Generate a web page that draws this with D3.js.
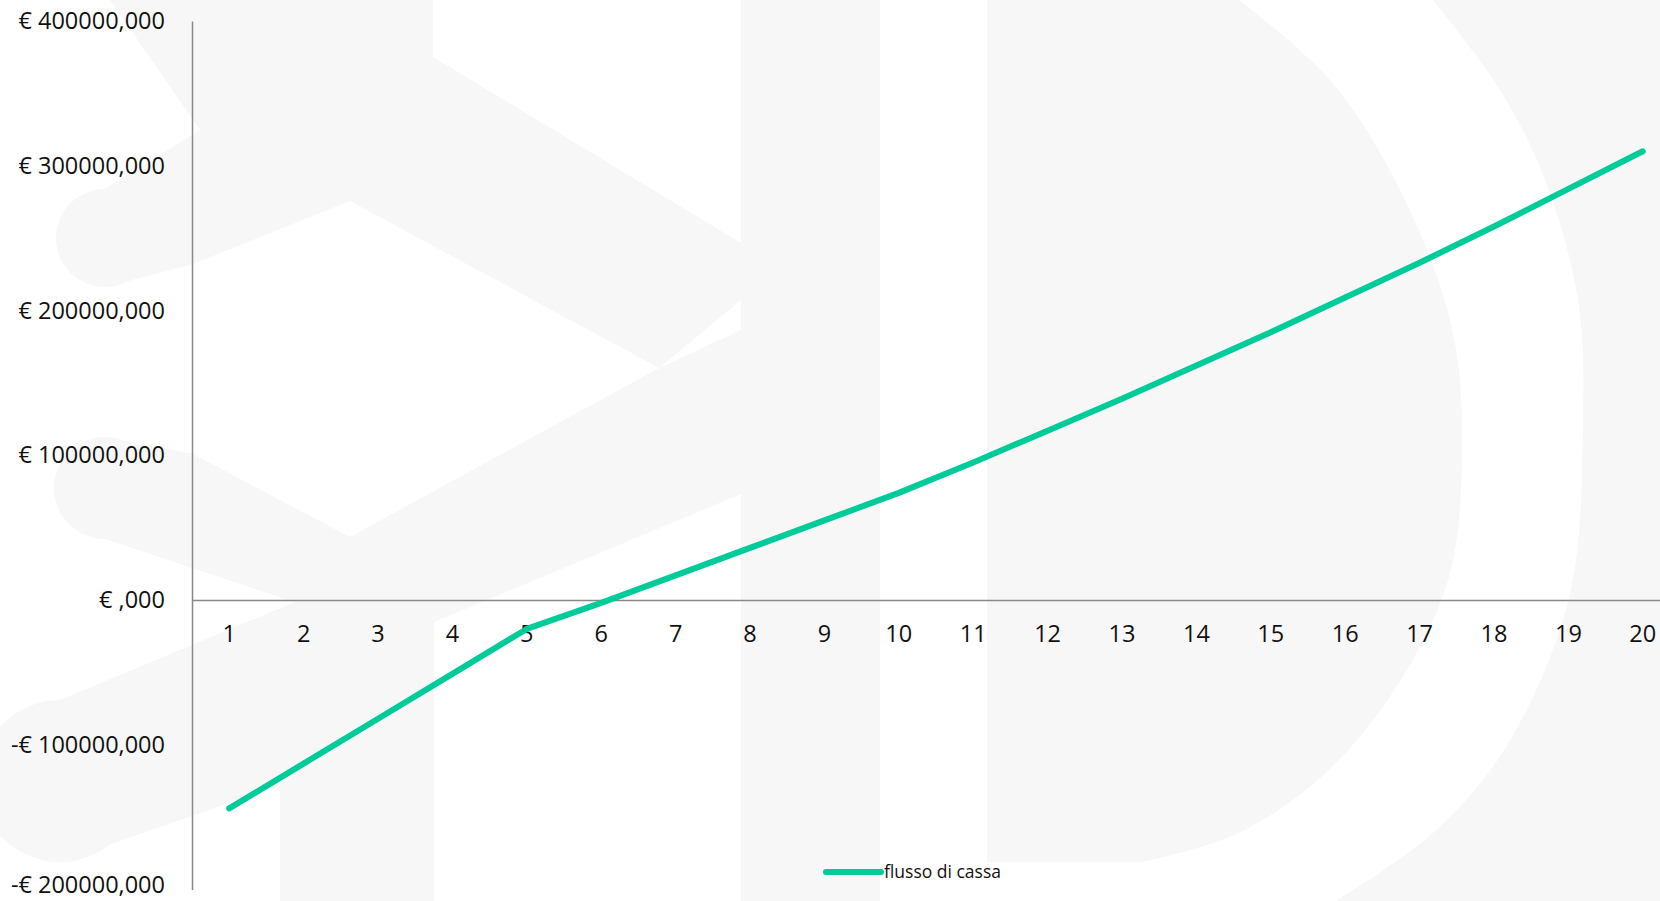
<!DOCTYPE html>
<html>
<head>
<meta charset="utf-8">
<script src="https://cdn.jsdelivr.net/npm/d3@7"></script>
<style>
  html, body { margin: 0; padding: 0; background: #ffffff; overflow: hidden; }
  svg { display: block; }
  text { font-family: "Open Sans", "Noto Sans", sans-serif; fill: #111; }
</style>
</head>
<body>
<svg id="chart" width="1660" height="901"></svg>
<script>
// ---------------- DATA ----------------
const years = [1,2,3,4,5,6,7,8,9,10,11,12,13,14,15,16,17,18,19,20];
const cashFlowMillions = [-144, -113, -82, -51, -20, -2, 17, 36, 55, 74, 95, 117, 139, 162, 185, 209, 233, 258, 284, 310];
const cashFlow = cashFlowMillions.map(v => v * 1e6);
const yTicks = [400e6, 300e6, 200e6, 100e6, 0, -100e6, -200e6];
const yTickLabels = ["€ 400000,000", "€ 300000,000", "€ 200000,000", "€ 100000,000", "€ ,000", "-€ 100000,000", "-€ 200000,000"];
const seriesName = "flusso di cassa";

// ---------------- LAYOUT ----------------
const W = 1660, H = 901;
const svg = d3.select("#chart");
const lineColor = "#00cc99";
const axisColor = "#898989";
const wmColor = "#f7f7f7";
const fontSize = 23.5;

// ---------------- WATERMARK (decorative background logo) ----------------
const wm = svg.append("g").attr("fill", wmColor);
const curve = d3.line().curve(d3.curveCatmullRom.alpha(0.5));
const poly = pts => "M" + pts.map(p => p.join(",")).join("L") + "Z";

// upper part: top block + rising arm + descending arm
wm.append("path").attr("d", poly([[110,0],[433,0],[433,57],[741,243],[741,300],[659,368],[350,201],[193,264],[105,287],[105,189],[200,130]]));
wm.append("circle").attr("cx", 105).attr("cy", 238).attr("r", 49);
// lower arm
wm.append("path").attr("d", poly([[105,437],[193,454],[350,537],[659,368],[741,330],[741,494],[434,622],[300,604],[105,539]]));
wm.append("circle").attr("cx", 105).attr("cy", 488).attr("r", 51);
// lower-left band with vertical stub
wm.append("path").attr("d", poly([[60,700],[300,600],[434,610],[434,901],[280,901],[280,785],[60,862]]));
wm.append("circle").attr("cx", 60).attr("cy", 781).attr("r", 81);
// vertical bar
wm.append("rect").attr("x", 741).attr("y", 0).attr("width", 139).attr("height", H);
// D shape
const dArc = curve([[1239,0],[1330,80],[1400,190],[1450,320],[1462,430],[1445,590],[1351,747],[1245,830],[1142,862]]);
wm.append("path").attr("d", "M987,0L" + dArc.slice(1) + "L987,862Z");
// outer ring
const oArc = curve([[1433,0],[1500,90],[1545,180],[1578,300],[1583,420],[1569,598],[1506,747],[1433,833],[1336,901]]);
wm.append("path").attr("d", oArc + "L1660,901L1660,0Z");

// ---------------- SCALES ----------------
const x = d3.scaleBand().domain(years).range([192, 1680]).paddingInner(0).paddingOuter(0);
const y = d3.scaleLinear().domain([-200e6, 400e6]).range([889.5, 21]);

// ---------------- AXES ----------------
const yAxis = svg.append("g")
  .attr("transform", "translate(192,0)")
  .call(d3.axisLeft(y).tickValues(yTicks).tickFormat((d, i) => yTickLabels[i]).tickSize(0).tickSizeOuter(0).tickPadding(27));
yAxis.select(".domain").attr("stroke", axisColor).attr("stroke-width", 1.5);
yAxis.selectAll("text").attr("font-size", fontSize).attr("fill", "#111")
  .style("font-family", '"Open Sans", sans-serif')
  .attr("dy", d => d === -200e6 ? "0.12em" : "0.32em");

const xAxis = svg.append("g")
  .attr("transform", `translate(0,${y(0)})`)
  .call(d3.axisBottom(x).tickSize(0).tickSizeOuter(0).tickPadding(25));
xAxis.select(".domain").attr("stroke", axisColor).attr("stroke-width", 1.5);
xAxis.selectAll("text").attr("font-size", fontSize).attr("fill", "#111")
  .style("font-family", '"Open Sans", sans-serif');

// ---------------- LINE ----------------
const line = d3.line()
  .x((d, i) => x(years[i]) + x.bandwidth() / 2)
  .y(d => y(d));
svg.append("path")
  .datum(cashFlow)
  .attr("fill", "none")
  .attr("stroke", lineColor)
  .attr("stroke-width", 6)
  .attr("stroke-linecap", "round")
  .attr("stroke-linejoin", "round")
  .attr("d", line);

// ---------------- LEGEND ----------------
const legend = svg.append("g").attr("transform", "translate(826,872)");
legend.append("line").attr("x1", 0).attr("x2", 55).attr("y1", 0).attr("y2", 0)
  .attr("stroke", lineColor).attr("stroke-width", 6).attr("stroke-linecap", "round");
legend.append("text").attr("x", 58).attr("y", 0).attr("dy", "0.35em")
  .attr("font-size", 17.5).text(seriesName);
</script>
</body>
</html>
